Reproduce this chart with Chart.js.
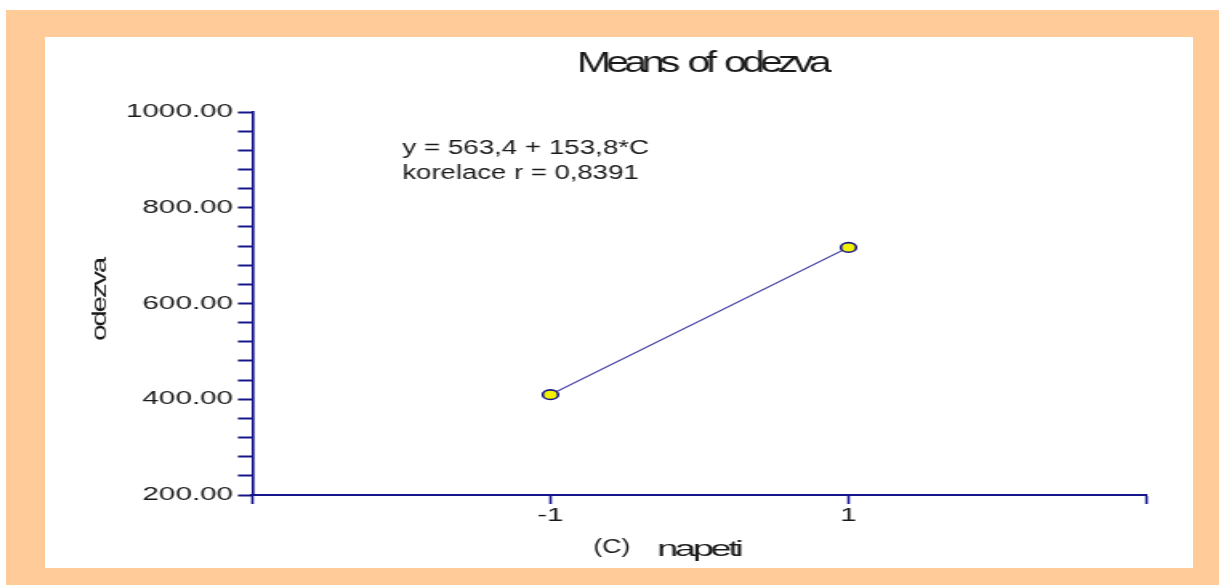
<!DOCTYPE html>
<html>
<head>
<meta charset="utf-8">
<script src="https://cdn.jsdelivr.net/npm/chart.js@4/dist/chart.umd.min.js"></script>
<style>
  html, body { margin: 0; padding: 0; background: #fff; overflow: hidden; }
  #frame { position: absolute; left: 6px; top: 10px; width: 1213px; height: 575px; background: #ffcc99; }
  #panel { position: absolute; left: 45px; top: 37px; width: 1148px; height: 531px; background: #fff; overflow: hidden; }
  /* the original picture is stretched sideways, so the chart is too */
  #stretch { width: 717.5px; height: 531px; transform: scaleX(1.6); transform-origin: 0 0; }
</style>
</head>
<body>
<div id="frame"></div>
<div id="panel"><div id="stretch"><canvas id="myChart"></canvas></div></div>
<script>
const napeti = [-1, 1];
const odezva = [409.6, 717.2];
const xLabels = [-1, 1];
const yMin = 200, yMax = 1000, yLabelStep = 200, yMinorStep = 40;
const xMin = -3, xMax = 3;

const navy = '#16168a';
const ink = '#1a1a1a';
const font = '"Liberation Sans", Arial, sans-serif';

// draws text squeezed/stretched to a given width
function fitText(c, text, x, y, size, spacing, width, align, wordGap) {
  c.save();
  c.font = size + 'px ' + font;
  c.letterSpacing = spacing + 'px';
  c.wordSpacing = (wordGap || 0) + 'px';
  c.fillStyle = ink;
  c.textBaseline = 'middle';
  c.textAlign = align;
  const w = c.measureText(text).width;
  c.translate(x, y);
  c.scale(width / w, 1);
  c.fillText(text, 0, 0);
  c.restore();
}

const texts = {
  id: 'texts',
  afterDraw(chart) {
    const c = chart.ctx;
    fitText(c, 'Means of odezva', 410, 27, 29, -3.5, 156, 'center', 4);
    fitText(c, 'y = 563,4 + 153,8*C', 223, 111, 20, 0, 154, 'left');
    fitText(c, 'korelace r = 0,8391', 223, 136, 20, 0, 147.5, 'left');
    fitText(c, '(C)', 353.8, 510, 20, 0, 23, 'center');
    fitText(c, 'napeti', 408, 513, 22, -2, 52, 'center');
    c.save();
    c.translate(34.4, 263);
    c.rotate(-Math.PI / 2);
    fitText(c, 'odezva', 0, 0, 12.5, -1, 82, 'center');
    c.restore();
  }
};

const ctx = document.getElementById('myChart');

new Chart(ctx, {
  type: 'line',
  data: {
    datasets: [{
      data: napeti.map((x, i) => ({ x: x, y: odezva[i] })),
      borderColor: '#34349c',
      borderWidth: 1.2,
      pointRadius: 4.8,
      pointBorderWidth: 1.6,
      pointBackgroundColor: '#f2f200',
      pointBorderColor: navy,
      tension: 0
    }]
  },
  options: {
    responsive: true,
    maintainAspectRatio: false,
    animation: false,
    events: [],
    layout: { padding: { top: 75, right: 30, bottom: 0, left: 0 } },
    plugins: {
      legend: { display: false },
      tooltip: { enabled: false }
    },
    scales: {
      x: {
        type: 'linear',
        min: xMin,
        max: xMax,
        afterFit(scale) { scale.height = 73; },
        ticks: {
          stepSize: 2,
          autoSkip: false,
          maxRotation: 0,
          padding: 1,
          color: ink,
          font: { family: font, size: 18.5 },
          callback: v => xLabels.includes(v) ? String(v) : ''
        },
        grid: {
          drawOnChartArea: false,
          drawTicks: true,
          tickLength: 9,
          tickWidth: 1.6,
          tickColor: navy
        },
        border: { color: navy, width: 2 }
      },
      y: {
        min: yMin,
        max: yMax,
        afterFit(scale) { scale.width = 129.4; },
        ticks: {
          stepSize: yMinorStep,
          autoSkip: false,
          padding: 3,
          color: ink,
          font: { family: font, size: 18.5 },
          callback: v => v % yLabelStep === 0 ? v.toFixed(2) : ''
        },
        grid: {
          drawOnChartArea: false,
          drawTicks: true,
          tickLength: 9,
          tickWidth: 2,
          tickColor: navy
        },
        border: { color: navy, width: 1.7 }
      }
    }
  },
  plugins: [texts]
});
</script>
</body>
</html>
